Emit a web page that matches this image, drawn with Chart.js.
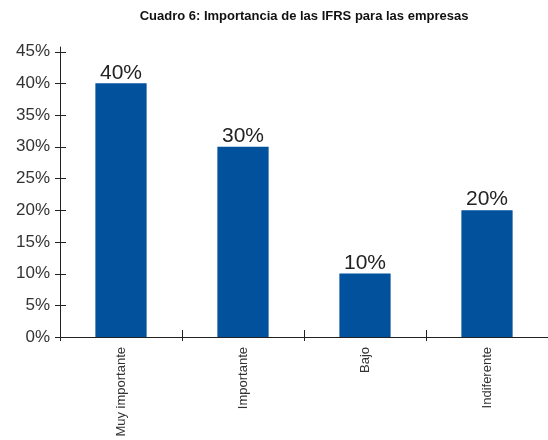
<!DOCTYPE html>
<html>
<head>
<meta charset="utf-8">
<script src="https://cdn.jsdelivr.net/npm/chart.js@4"></script>
<style>
  html, body { margin: 0; padding: 0; background: #fff; }
  #wrap { width: 548px; height: 440px; }
</style>
</head>
<body>
<div id="wrap"><canvas id="myChart" width="548" height="440"></canvas></div>
<script>
// chart data
const categories = ['Muy importante', 'Importante', 'Bajo', 'Indiferente'];
const values = [40, 30, 10, 20];
const yTicks = [0, 5, 10, 15, 20, 25, 30, 35, 40, 45];

const ctx = document.getElementById('myChart');

// draws axis lines, crossing tick marks and the value labels
const decorations = {
    id: 'decorations',
    afterDraw(chart) {
        const c = chart.ctx;
        const x = chart.scales.x;
        const y = chart.scales.y;
        const area = chart.chartArea;
        c.save();
        c.strokeStyle = '#222';
        c.lineWidth = 1;
        c.beginPath();
        // y axis
        c.moveTo(area.left + 0.5, area.top - 5);
        c.lineTo(area.left + 0.5, area.bottom + 4);
        // x axis
        c.moveTo(area.left, area.bottom + 0.5);
        c.lineTo(chart.width, area.bottom + 0.5);
        // y ticks
        yTicks.forEach(v => {
            const py = Math.round(y.getPixelForValue(v)) + 0.5;
            c.moveTo(area.left - 5, py);
            c.lineTo(area.left + 6, py);
        });
        // x ticks between categories
        for (let i = 1; i < categories.length; i++) {
            const px = Math.round((x.getPixelForValue(i - 1) + x.getPixelForValue(i)) / 2) + 0.5;
            c.moveTo(px, area.bottom - 7);
            c.lineTo(px, area.bottom + 4);
        }
        c.stroke();

        // value labels
        c.fillStyle = '#222';
        c.font = '21px "Liberation Sans", Arial, sans-serif';
        c.textAlign = 'center';
        c.textBaseline = 'bottom';
        const meta = chart.getDatasetMeta(0);
        meta.data.forEach((bar, i) => {
            c.fillText(values[i] + '%', bar.x, bar.y);
        });
        c.restore();
    }
};

new Chart(ctx, {
    type: 'bar',
    data: {
        labels: categories,
        datasets: [{
            data: values,
            backgroundColor: '#01519c',
            barPercentage: 0.42,
            categoryPercentage: 1
        }]
    },
    options: {
        responsive: false,
        animation: false,
        layout: { padding: { top: 5, right: 0, left: 0, bottom: 0 } },
        plugins: {
            legend: { display: false },
            tooltip: { enabled: false },
            title: {
                display: true,
                fullSize: false,
                text: 'Cuadro 6: Importancia de las IFRS para las empresas',
                color: '#111',
                font: { family: '"Liberation Sans", Arial, sans-serif', size: 13, weight: 'bold' },
                padding: { top: 4, bottom: 27 }
            }
        },
        scales: {
            x: {
                grid: { display: false },
                border: { display: false },
                ticks: {
                    color: '#333',
                    font: { family: '"Liberation Sans", Arial, sans-serif', size: 13 },
                    minRotation: 90,
                    maxRotation: 90,
                    padding: 2
                },
                afterFit(scale) { scale.height = 103; }
            },
            y: {
                min: 0,
                max: 45,
                grid: { display: false },
                border: { display: false },
                ticks: {
                    stepSize: 5,
                    color: '#333',
                    padding: 2,
                    font: { family: '"Liberation Sans", Arial, sans-serif', size: 17 },
                    callback: v => v + '%'
                },
                afterFit(scale) { scale.width = 60; }
            }
        }
    },
    plugins: [decorations]
});
</script>
</body>
</html>
